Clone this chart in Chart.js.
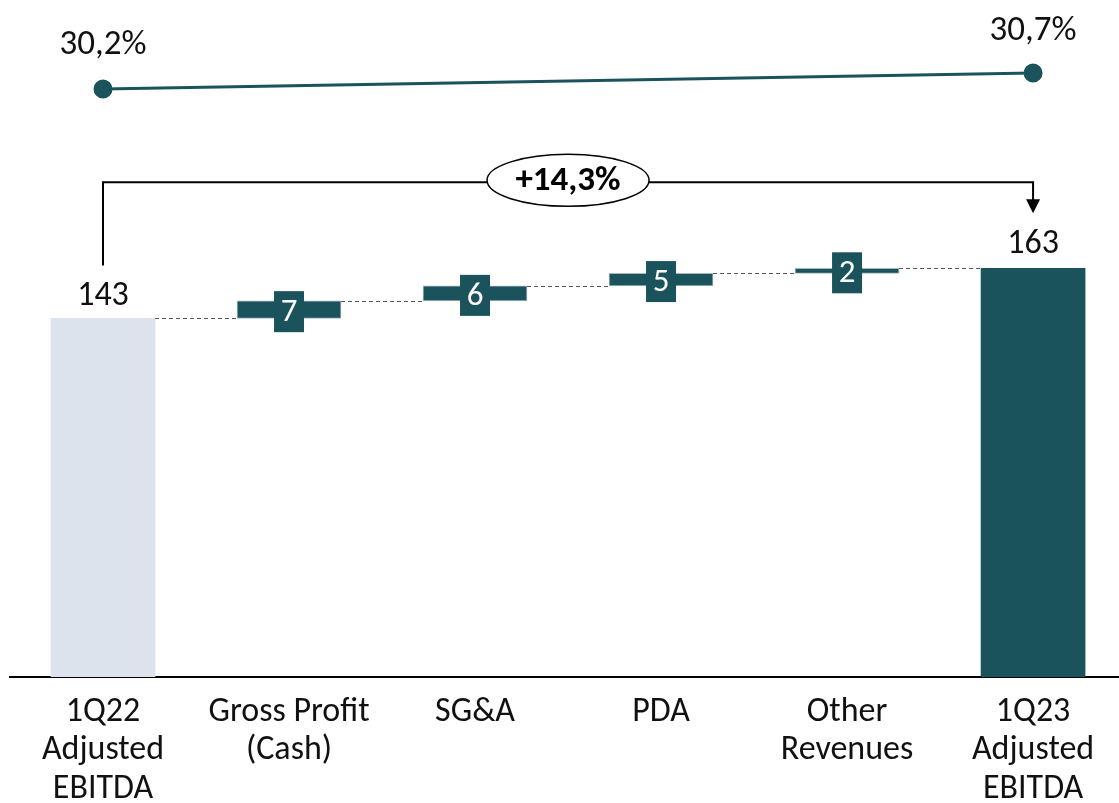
<!DOCTYPE html>
<html>
<head>
<meta charset="utf-8">
<script src="https://cdn.jsdelivr.net/npm/chart.js@4/dist/chart.umd.min.js"></script>
<style>
  html, body { margin: 0; padding: 0; background: #fff; }
  #wrap { width: 1119px; height: 803px; }
</style>
</head>
<body>
<div id="wrap"><canvas id="ebitda-bridge" width="1119" height="803"></canvas></div>
<script>
  // Bridge categories and values
  const categories = [
    ["1Q22", "Adjusted", "EBITDA"],
    ["Gross Profit", "(Cash)"],
    ["SG&A"],
    ["PDA"],
    ["Other", "Revenues"],
    ["1Q23", "Adjusted", "EBITDA"],
  ];
  const startValue = 143;
  const deltas = [7, 6, 5, 2];
  const endValue = 163;
  const marginPct = [30.2, 30.7];
  const marginLabels = ["30,2%", "30,7%"];
  const growthLabel = "+14,3%";

  const TEAL = "#1b535c";
  const LIGHT = "#dce3ed";
  const FONT = "Carlito, Calibri, Lato, sans-serif";

  // Build floating ranges for the bridge
  const ranges = [[0, startValue]];
  let running = startValue;
  deltas.forEach((d) => {
    ranges.push([running, running + d]);
    running += d;
  });
  ranges.push([0, endValue]);

  const barData = ranges.map((r, i) => ({ x: i, y: r }));
  const barColors = ranges.map((_, i) => (i === 0 ? LIGHT : TEAL));
  const barBorders = ranges.map((_, i) => (i === 0 || i === ranges.length - 1 ? 0 : 1));

  const lineData = [
    { x: 0, y: marginPct[0] },
    { x: categories.length - 1, y: marginPct[1] },
  ];

  // Labels, connectors, delta boxes and growth bracket
  const bridgeDecor = {
    id: "bridgeDecor",
    afterDatasetsDraw(chart) {
      const { ctx } = chart;
      const y = chart.scales.y;
      const bars = chart.getDatasetMeta(1).data;

      ctx.save();

      // dashed connectors between bars
      ctx.strokeStyle = "#555";
      ctx.lineWidth = 1;
      ctx.setLineDash([4, 3]);
      for (let i = 0; i < ranges.length - 1; i++) {
        const level = ranges[i][1];
        const b0 = bars[i];
        const b1 = bars[i + 1];
        const py = Math.round(y.getPixelForValue(level)) + 0.5;
        ctx.beginPath();
        ctx.moveTo(b0.x + b0.width / 2, py);
        ctx.lineTo(b1.x - b1.width / 2, py);
        ctx.stroke();
      }
      ctx.setLineDash([]);

      // delta boxes
      ctx.textAlign = "center";
      ctx.textBaseline = "middle";
      ctx.font = `33px ${FONT}`;
      deltas.forEach((d, k) => {
        const i = k + 1;
        const cx = bars[i].x;
        const cy = (y.getPixelForValue(ranges[i][0]) + y.getPixelForValue(ranges[i][1])) / 2 + 2;
        ctx.fillStyle = TEAL;
        ctx.fillRect(cx - 15, cy - 20.5, 30, 41);
        ctx.fillStyle = "#fff";
        ctx.fillText(String(d), cx, cy + 1);
      });

      // totals above first and last bars
      ctx.font = `34px ${FONT}`;
      ctx.fillStyle = "#111";
      ctx.fillText(String(startValue), bars[0].x, y.getPixelForValue(startValue) - 22);
      ctx.fillText(String(endValue), bars[bars.length - 1].x, y.getPixelForValue(endValue) - 24);

      // margin labels
      ctx.font = `35px ${FONT}`;
      const pts = chart.getDatasetMeta(0).data;
      ctx.fillText(marginLabels[0], pts[0].x, pts[0].y - 44);
      ctx.fillText(marginLabels[1], pts[1].x, pts[1].y - 42);

      // growth bracket
      const lx = bars[0].x;
      const rx = bars[bars.length - 1].x;
      const topY = y.getPixelForValue(endValue) - 86;
      const leftBottom = y.getPixelForValue(startValue) - 53;
      const tipY = y.getPixelForValue(endValue) - 55;
      ctx.strokeStyle = "#000";
      ctx.lineWidth = 2;
      ctx.beginPath();
      ctx.moveTo(lx, leftBottom);
      ctx.lineTo(lx, topY);
      ctx.lineTo(rx, topY);
      ctx.lineTo(rx, tipY - 13);
      ctx.stroke();
      ctx.fillStyle = "#000";
      ctx.beginPath();
      ctx.moveTo(rx - 7, tipY - 14);
      ctx.lineTo(rx + 7, tipY - 14);
      ctx.lineTo(rx, tipY);
      ctx.closePath();
      ctx.fill();

      const ex = (lx + rx) / 2;
      ctx.beginPath();
      ctx.ellipse(ex, topY - 2, 81, 26, 0, 0, Math.PI * 2);
      ctx.fillStyle = "#fff";
      ctx.fill();
      ctx.lineWidth = 1.5;
      ctx.stroke();
      ctx.fillStyle = "#000";
      ctx.font = `bold 35px ${FONT}`;
      ctx.fillText(growthLabel, ex, topY - 1);

      ctx.restore();
    },
  };

  const ctx = document.getElementById("ebitda-bridge").getContext("2d");
  new Chart(ctx, {
    data: {
      datasets: [
        {
          type: "line",
          label: "EBITDA margin",
          data: lineData,
          yAxisID: "yPct",
          borderColor: TEAL,
          borderWidth: 3,
          pointRadius: 8,
          pointBackgroundColor: TEAL,
          pointBorderColor: TEAL,
          tension: 0,
          clip: false,
        },
        {
          type: "bar",
          label: "EBITDA",
          data: barData,
          yAxisID: "y",
          backgroundColor: barColors,
          borderColor: "#a7b8ba",
          borderWidth: barBorders,
          borderSkipped: false,
          barThickness: 104,
          grouped: false,
        },
      ],
    },
    options: {
      responsive: false,
      devicePixelRatio: 1,
      animation: false,
      layout: { autoPadding: false, padding: { left: 10, right: 0, top: 0, bottom: 0 } },
      plugins: {
        legend: { display: false },
        tooltip: { enabled: false },
      },
      scales: {
        x: {
          type: "linear",
          offset: false,
          min: -0.5,
          max: 5.462,
          grid: { display: false, drawTicks: false },
          border: { display: true, color: "#000", width: 2 },
          afterBuildTicks: (scale) => {
            scale.ticks = categories.map((_, i) => ({ value: i }));
          },
          afterFit: (scale) => {
            scale.height = 126;
          },
          ticks: {
            autoSkip: false,
            maxRotation: 0,
            padding: 16,
            color: "#111",
            font: { family: FONT, size: 34, lineHeight: 1.13 },
            callback: (v) => categories[v],
          },
        },
        y: {
          display: false,
          min: 0,
          max: 270,
        },
        yPct: {
          display: false,
          min: 11.83,
          max: 32.98,
        },
      },
    },
    plugins: [bridgeDecor],
  });
</script>
</body>
</html>
